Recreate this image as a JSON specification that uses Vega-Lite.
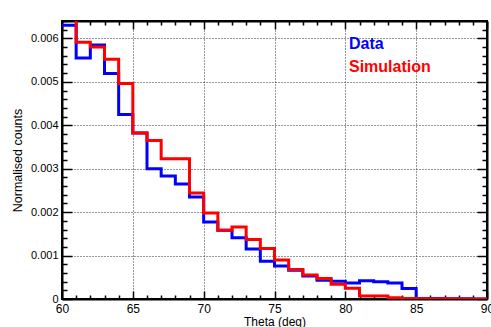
{
  "$schema": "https://vega.github.io/schema/vega-lite/v6.json",
  "width": 425,
  "height": 278,
  "autosize": "none",
  "padding": {"left": 62, "top": 21, "right": 4, "bottom": 28},
  "background": "white",
  "datasets": {
    "h": [
      {"theta": 60, "value": 0.0063, "series": "Data"},
      {"theta": 61, "value": 0.00555, "series": "Data"},
      {"theta": 62, "value": 0.00585, "series": "Data"},
      {"theta": 63, "value": 0.00519, "series": "Data"},
      {"theta": 64, "value": 0.00425, "series": "Data"},
      {"theta": 65, "value": 0.00382, "series": "Data"},
      {"theta": 66, "value": 0.0030, "series": "Data"},
      {"theta": 67, "value": 0.00283, "series": "Data"},
      {"theta": 68, "value": 0.00265, "series": "Data"},
      {"theta": 69, "value": 0.00235, "series": "Data"},
      {"theta": 70, "value": 0.00177, "series": "Data"},
      {"theta": 71, "value": 0.00158, "series": "Data"},
      {"theta": 72, "value": 0.00141, "series": "Data"},
      {"theta": 73, "value": 0.00115, "series": "Data"},
      {"theta": 74, "value": 0.00087, "series": "Data"},
      {"theta": 75, "value": 0.00076, "series": "Data"},
      {"theta": 76, "value": 0.00066, "series": "Data"},
      {"theta": 77, "value": 0.00053, "series": "Data"},
      {"theta": 78, "value": 0.00043, "series": "Data"},
      {"theta": 79, "value": 0.00041, "series": "Data"},
      {"theta": 80, "value": 0.00037, "series": "Data"},
      {"theta": 81, "value": 0.00042, "series": "Data"},
      {"theta": 82, "value": 0.0004, "series": "Data"},
      {"theta": 83, "value": 0.00037, "series": "Data"},
      {"theta": 84, "value": 0.00024, "series": "Data"},
      {"theta": 85, "value": 0.00001, "series": "Data"},
      {"theta": 86, "value": 0.00001, "series": "Data"},
      {"theta": 87, "value": 0.000005, "series": "Data"},
      {"theta": 88, "value": 0.000005, "series": "Data"},
      {"theta": 89, "value": 0, "series": "Data"},
      {"theta": 90, "value": 0, "series": "Data"},
      {"theta": 60, "value": 0.0070, "series": "Simulation"},
      {"theta": 61, "value": 0.00591, "series": "Simulation"},
      {"theta": 62, "value": 0.0058, "series": "Simulation"},
      {"theta": 63, "value": 0.00552, "series": "Simulation"},
      {"theta": 64, "value": 0.00496, "series": "Simulation"},
      {"theta": 65, "value": 0.00382, "series": "Simulation"},
      {"theta": 66, "value": 0.00365, "series": "Simulation"},
      {"theta": 67, "value": 0.00323, "series": "Simulation"},
      {"theta": 68, "value": 0.00323, "series": "Simulation"},
      {"theta": 69, "value": 0.00244, "series": "Simulation"},
      {"theta": 70, "value": 0.00198, "series": "Simulation"},
      {"theta": 71, "value": 0.00158, "series": "Simulation"},
      {"theta": 72, "value": 0.00166, "series": "Simulation"},
      {"theta": 73, "value": 0.00137, "series": "Simulation"},
      {"theta": 74, "value": 0.00116, "series": "Simulation"},
      {"theta": 75, "value": 0.0009, "series": "Simulation"},
      {"theta": 76, "value": 0.00068, "series": "Simulation"},
      {"theta": 77, "value": 0.00055, "series": "Simulation"},
      {"theta": 78, "value": 0.00047, "series": "Simulation"},
      {"theta": 79, "value": 0.00034, "series": "Simulation"},
      {"theta": 80, "value": 0.00025, "series": "Simulation"},
      {"theta": 81, "value": 0.00007, "series": "Simulation"},
      {"theta": 82, "value": 0.00007, "series": "Simulation"},
      {"theta": 83, "value": 0.00003, "series": "Simulation"},
      {"theta": 84, "value": 0.00001, "series": "Simulation"},
      {"theta": 85, "value": 0.000005, "series": "Simulation"},
      {"theta": 86, "value": 0.000005, "series": "Simulation"},
      {"theta": 87, "value": 0.000005, "series": "Simulation"},
      {"theta": 88, "value": 0, "series": "Simulation"},
      {"theta": 89, "value": 0, "series": "Simulation"},
      {"theta": 90, "value": 0, "series": "Simulation"}
    ]
  },
  "data": {"name": "h"},
  "config": {
    "view": {"stroke": "black", "strokeWidth": 2},
    "axis": {
      "domainColor": "black",
      "domainWidth": 2,
      "tickColor": "black",
      "tickWidth": 1.5,
      "labelFont": "Liberation Sans",
      "titleFont": "Liberation Sans",
      "labelColor": "black",
      "titleColor": "black",
      "titleFontWeight": "normal",
      "gridColor": "#333333",
      "gridDash": [1, 2],
      "gridWidth": 1
    }
  },
  "layer": [
    {
      "mark": {"type": "line", "interpolate": "step-after", "strokeWidth": 3, "clip": true},
      "encoding": {
        "x": {
          "field": "theta", "type": "quantitative",
          "scale": {"domain": [60, 90], "nice": false, "zero": false},
          "axis": {
            "orient": "bottom",
            "title": "Theta (deg)",
            "titleFontSize": 12,
            "titlePadding": -2,
            "values": [60,61,62,63,64,65,66,67,68,69,70,71,72,73,74,75,76,77,78,79,80,81,82,83,84,85,86,87,88,89,90],
            "labelExpr": "datum.value % 5 === 0 ? datum.label : ''",
            "format": "d",
            "labelFontSize": 12,
            "labelPadding": 12,
            "labelFlush": false,
            "labelOverlap": false,
            "tickSize": {"condition": {"test": "datum.value % 5 === 0", "value": -8}, "value": -4},
            "grid": true,
            "gridOpacity": {"condition": {"test": "datum.value % 5 === 0", "value": 1}, "value": 0}
          }
        },
        "y": {
          "field": "value", "type": "quantitative",
          "scale": {"domain": [0, 0.0064], "nice": false},
          "axis": {
            "orient": "left",
            "title": "Normalised counts",
            "titleFontSize": 12.5,
            "titlePadding": 6,
            "values": [0,0.0002,0.0004,0.0006,0.0008,0.001,0.0012,0.0014,0.0016,0.0018,0.002,0.0022,0.0024,0.0026,0.0028,0.003,0.0032,0.0034,0.0036,0.0038,0.004,0.0042,0.0044,0.0046,0.0048,0.005,0.0052,0.0054,0.0056,0.0058,0.006,0.0062,0.0064],
            "format": ".3~f",
            "labelExpr": "abs(datum.value*1000 - round(datum.value*1000)) < 1e-6 ? datum.label : ''",
            "labelFontSize": 11,
            "labelPadding": 14,
            "labelFlush": false,
            "labelOverlap": false,
            "tickSize": {"condition": {"test": "abs(datum.value*1000 - round(datum.value*1000)) < 1e-6", "value": -10}, "value": -5},
            "grid": true,
            "gridOpacity": {"condition": {"test": "abs(datum.value*1000 - round(datum.value*1000)) < 1e-6", "value": 1}, "value": 0}
          }
        },
        "color": {
          "field": "series", "type": "nominal",
          "scale": {"domain": ["Data", "Simulation"], "range": ["#0000ff", "#ff0000"]},
          "legend": {
            "title": null,
            "orient": "none",
            "legendX": 271,
            "legendY": 15,
            "symbolOpacity": 0,
            "symbolSize": 0,
            "symbolStrokeWidth": 0,
            "labelOffset": 0,
            "labelFont": "Liberation Sans",
            "labelFontSize": 16,
            "labelFontWeight": "bold",
            "rowPadding": 7,
            "encode": {"labels": {"update": {"fill": {"scale": "color", "field": "value"}}}}
          }
        }
      }
    },
    {
      "mark": {"type": "line", "interpolate": "step-after", "strokeOpacity": 0},
      "encoding": {
        "x": {
          "field": "theta", "type": "quantitative",
          "axis": {
            "orient": "top",
            "title": null,
            "labels": false,
            "grid": false,
            "values": [60,61,62,63,64,65,66,67,68,69,70,71,72,73,74,75,76,77,78,79,80,81,82,83,84,85,86,87,88,89,90],
            "tickSize": {"condition": {"test": "datum.value % 5 === 0", "value": -8}, "value": -4}
          }
        },
        "y": {
          "field": "value", "type": "quantitative",
          "axis": {
            "orient": "right",
            "title": null,
            "labels": false,
            "grid": false,
            "values": [0,0.0002,0.0004,0.0006,0.0008,0.001,0.0012,0.0014,0.0016,0.0018,0.002,0.0022,0.0024,0.0026,0.0028,0.003,0.0032,0.0034,0.0036,0.0038,0.004,0.0042,0.0044,0.0046,0.0048,0.005,0.0052,0.0054,0.0056,0.0058,0.006,0.0062,0.0064],
            "tickSize": {"condition": {"test": "abs(datum.value*1000 - round(datum.value*1000)) < 1e-6", "value": -10}, "value": -5}
          }
        },
        "detail": {"field": "series", "type": "nominal"}
      }
    }
  ],
  "resolve": {"axis": {"x": "independent", "y": "independent"}}
}
